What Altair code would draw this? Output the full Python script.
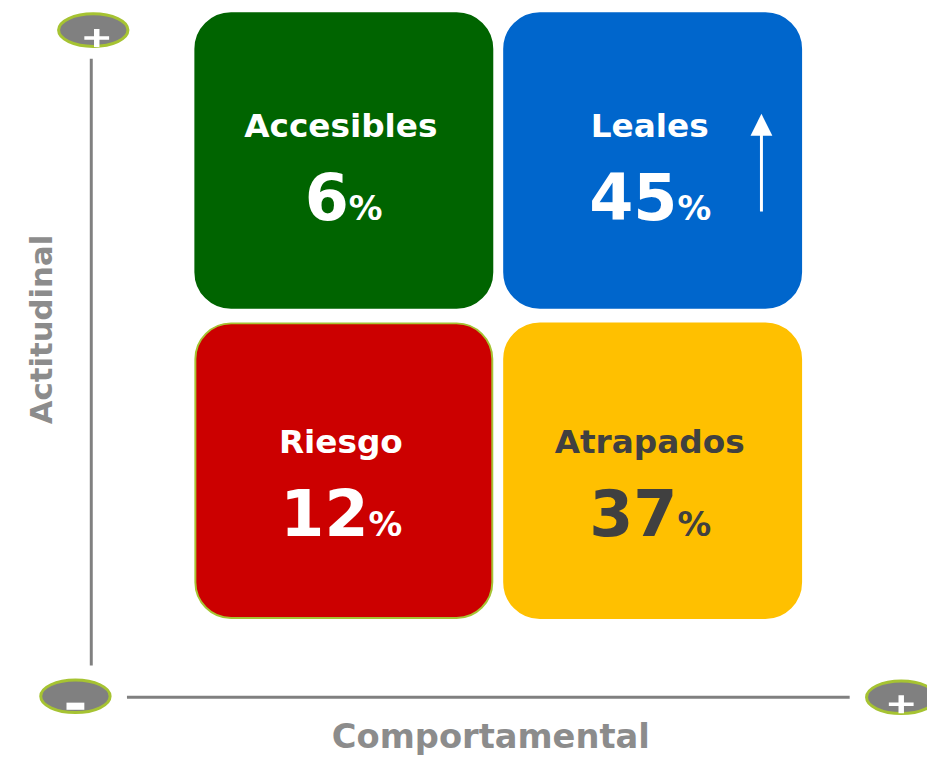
import altair as alt
import pandas as pd

# ---- data ----
segmentos = ["Accesibles", "Leales", "Riesgo", "Atrapados"]
porcentajes = [6, 45, 12, 37]
comportamental = ["Bajo", "Alto", "Bajo", "Alto"]
actitudinal = ["Alto", "Alto", "Bajo", "Bajo"]

# ---- styles ----
colores_caja = ["#006400", "#0066CC", "#CC0000", "#FFC000"]
colores_borde = ["#006400", "#0066CC", "#A6C332", "#FFC000"]
colores_texto = ["#FFFFFF", "#FFFFFF", "#FFFFFF", "#404040"]
GRIS = "#808080"
LIMA = "#A6C332"
GRIS_TXT = "#8C8C8C"

df = pd.DataFrame({
    "segmento": segmentos,
    "pct": porcentajes,
    "comp": comportamental,
    "acti": actitudinal,
})

x_enc = alt.X("comp:N", axis=None,
              scale=alt.Scale(domain=["Bajo", "Alto"], range=[189, 800],
                              paddingInner=0.0385, paddingOuter=0))
y_enc = alt.Y("acti:N", axis=None,
              scale=alt.Scale(domain=["Alto", "Bajo"], range=[2, 612],
                              paddingInner=0.05, paddingOuter=0))
txt_color = alt.Color("segmento:N", legend=None,
                      scale=alt.Scale(domain=segmentos, range=colores_texto))

base = alt.Chart(df)

cajas = base.mark_rect(cornerRadius=36, strokeWidth=2).encode(
    x=x_enc, y=y_enc,
    fill=alt.Fill("segmento:N", legend=None,
                  scale=alt.Scale(domain=segmentos, range=colores_caja)),
    stroke=alt.Stroke("segmento:N", legend=None,
                      scale=alt.Scale(domain=segmentos, range=colores_borde)),
)

dy_tit = alt.ExprRef(expr="datum.acti == 'Alto' ? -24 : -18")
dy_num = alt.ExprRef(expr="datum.acti == 'Alto' ? 60 : 66")
desplaz = alt.ExprRef(expr="5 + (length(toString(datum.pct)) - 1) * 20")

titulos = base.mark_text(font="DejaVu Sans", fontWeight="bold", fontSize=33,
                         baseline="alphabetic", dy=dy_tit, dx=-3).encode(
    x=x_enc, y=y_enc, text="segmento:N", color=txt_color)

numeros = base.mark_text(font="DejaVu Sans", fontWeight="bold", fontSize=64,
                         align="right", baseline="alphabetic", dy=dy_num,
                         dx=desplaz).encode(
    x=x_enc, y=y_enc, text="pct:Q", color=txt_color)

signo = base.mark_text(font="DejaVu Sans", fontWeight="bold", fontSize=34,
                       align="left", baseline="alphabetic", dy=dy_num,
                       dx=desplaz).encode(
    x=x_enc, y=y_enc, text=alt.value("%"), color=txt_color)

uno = alt.Data(values=[{"k": 1}])

eje_v = alt.Chart(uno).mark_rule(color=GRIS, strokeWidth=3).encode(
    x=alt.value(84), y=alt.value(48), y2=alt.value(660))
eje_h = alt.Chart(uno).mark_rule(color=GRIS, strokeWidth=3).encode(
    y=alt.value(692), x=alt.value(120), x2=alt.value(849))

ELIPSE = "M-1,0A1,0.47,0,1,1,1,0A1,0.47,0,1,1,-1,0Z"
MAS = ("M-1,-0.14L-0.22,-0.14L-0.22,-0.72L0.22,-0.72L0.22,-0.14L1,-0.14"
       "L1,0.14L0.22,0.14L0.22,0.72L-0.22,0.72L-0.22,0.14L-1,0.14Z")
MENOS = "M-1,-0.4L1,-0.4L1,0.4L-1,0.4Z"
TRI = "M0,-1L1,1L-1,1Z"


def elipse(cx, cy):
    return alt.Chart(uno).mark_point(
        shape=ELIPSE, size=4900, filled=True, fill=GRIS, stroke=LIMA,
        strokeWidth=3, fillOpacity=1, strokeOpacity=1, opacity=1
    ).encode(x=alt.value(cx), y=alt.value(cy))


def simbolo(path, cx, cy, size):
    return alt.Chart(uno).mark_point(
        shape=path, size=size, filled=True, fill="white", strokeWidth=0,
        fillOpacity=1, opacity=1
    ).encode(x=alt.value(cx), y=alt.value(cy))


flecha = alt.Chart(uno).mark_rule(color="white", strokeWidth=3).encode(
    x=alt.value(760), y=alt.value(124), y2=alt.value(202))
punta = simbolo(TRI, 760, 114.5, 484)

tit_y = alt.Chart(uno).mark_text(
    text="Actitudinal", font="DejaVu Sans", fontWeight="bold", fontSize=31,
    color=GRIS_TXT, angle=270, align="center", baseline="middle"
).encode(x=alt.value(35), y=alt.value(321))

tit_x = alt.Chart(uno).mark_text(
    text="Comportamental", font="DejaVu Sans", fontWeight="bold", fontSize=34,
    color=GRIS_TXT, align="center", baseline="alphabetic"
).encode(x=alt.value(487), y=alt.value(743))

chart = alt.layer(
    eje_v, eje_h,
    elipse(86, 19), elipse(68, 691), elipse(901, 692),
    simbolo(MAS, 89.5, 27, 625), simbolo(MENOS, 68, 701, 324),
    simbolo(MAS, 901, 699, 625),
    cajas, titulos, numeros, signo, flecha, punta,
    tit_y, tit_x,
).properties(
    width=927, height=757, autosize="none", padding=0, background="white"
).configure_view(stroke=None)

chart.save("out.html", embed_options={"renderer": "svg", "actions": False})
